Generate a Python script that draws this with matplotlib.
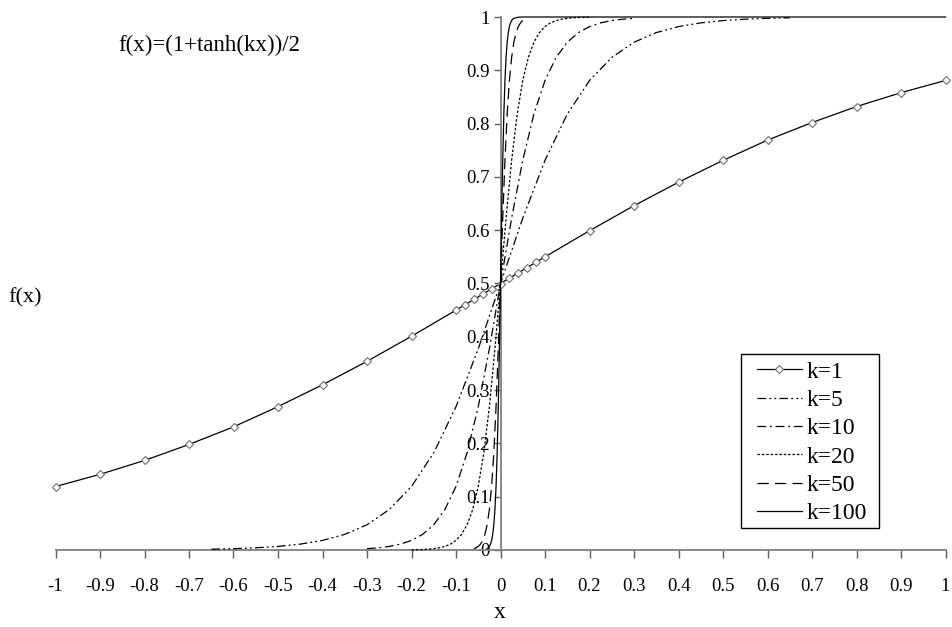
import numpy as np
import matplotlib
matplotlib.use("Agg")
import matplotlib.pyplot as plt
from matplotlib.patches import Rectangle
from matplotlib.ticker import FuncFormatter, MultipleLocator

plt.rcParams["font.family"] = ["Liberation Serif", "DejaVu Serif"]

# values
x_k1 = [-1, -0.9, -0.8, -0.7, -0.6, -0.5, -0.4, -0.3, -0.2, -0.1,
        -0.08, -0.06, -0.04, -0.02, 0, 0.02, 0.04, 0.06, 0.08,
        0.1, 0.2, 0.3, 0.4, 0.5, 0.6, 0.7, 0.8, 0.9, 1]
y_k1 = [0.119, 0.142, 0.168, 0.198, 0.231, 0.269, 0.310, 0.354, 0.401, 0.450,
        0.460, 0.470, 0.480, 0.490, 0.500, 0.510, 0.520, 0.530, 0.540,
        0.550, 0.599, 0.646, 0.690, 0.731, 0.769, 0.802, 0.832, 0.858, 0.881]

x_k5 = [-0.65, -0.6, -0.55, -0.5, -0.45, -0.4, -0.35, -0.3, -0.25, -0.2,
        -0.15, -0.1, -0.05, 0, 0.05, 0.1, 0.15, 0.2, 0.25, 0.3,
        0.35, 0.4, 0.45, 0.5, 0.55, 0.6, 0.65]
y_k5 = [0.0015, 0.0025, 0.0041, 0.0067, 0.011, 0.018, 0.0293, 0.0474, 0.0759, 0.1192,
        0.1824, 0.2689, 0.3775, 0.5, 0.6225, 0.7311, 0.8176, 0.8808, 0.9241, 0.9526,
        0.9707, 0.982, 0.989, 0.9933, 0.9959, 0.9975, 0.9985]

x_k10 = [-0.3, -0.275, -0.25, -0.225, -0.2, -0.175, -0.15, -0.125, -0.1,
         -0.075, -0.05, -0.025, 0, 0.025, 0.05, 0.075, 0.1, 0.125,
         0.15, 0.175, 0.2, 0.225, 0.25, 0.275, 0.3]
y_k10 = [0.0025, 0.0041, 0.0067, 0.011, 0.018, 0.0293, 0.0474, 0.0759, 0.1192,
         0.1824, 0.2689, 0.3775, 0.5, 0.6225, 0.7311, 0.8176, 0.8808, 0.9241,
         0.9526, 0.9707, 0.982, 0.989, 0.9933, 0.9959, 0.9975]

x_k20 = [-0.2, -0.1875, -0.175, -0.1625, -0.15, -0.1375, -0.125, -0.1125, -0.1,
         -0.0875, -0.075, -0.0625, -0.05, -0.0375, -0.025, -0.0125, 0,
         0.0125, 0.025, 0.0375, 0.05, 0.0625, 0.075, 0.0875, 0.1,
         0.1125, 0.125, 0.1375, 0.15, 0.1625, 0.175, 0.1875, 0.2]
y_k20 = [0.0003, 0.0006, 0.0009, 0.0015, 0.0025, 0.0041, 0.0067, 0.011, 0.018,
         0.0293, 0.0474, 0.0759, 0.1192, 0.1824, 0.2689, 0.3775, 0.5,
         0.6225, 0.7311, 0.8176, 0.8808, 0.9241, 0.9526, 0.9707, 0.982,
         0.989, 0.9933, 0.9959, 0.9975, 0.9985, 0.9991, 0.9994, 0.9997]

x_k50 = [-0.06, -0.055, -0.05, -0.045, -0.04, -0.035, -0.03, -0.025, -0.02,
         -0.015, -0.01, -0.005, 0, 0.005, 0.01, 0.015, 0.02, 0.025,
         0.03, 0.035, 0.04, 0.045, 0.05, 0.055, 0.06]
y_k50 = [0.0025, 0.0041, 0.0067, 0.011, 0.018, 0.0293, 0.0474, 0.0759, 0.1192,
         0.1824, 0.2689, 0.3775, 0.5, 0.6225, 0.7311, 0.8176, 0.8808, 0.9241,
         0.9526, 0.9707, 0.982, 0.989, 0.9933, 0.9959, 0.9975]

x_k100 = [-0.03, -0.0275, -0.025, -0.0225, -0.02, -0.0175, -0.015, -0.0125, -0.01,
          -0.0075, -0.005, -0.0025, 0, 0.0025, 0.005, 0.0075, 0.01, 0.0125,
          0.015, 0.0175, 0.02, 0.0225, 0.025, 0.0275, 0.03, 0.04, 0.05, 0.1, 1]
y_k100 = [0.0025, 0.0041, 0.0067, 0.011, 0.018, 0.0293, 0.0474, 0.0759, 0.1192,
          0.1824, 0.2689, 0.3775, 0.5, 0.6225, 0.7311, 0.8176, 0.8808, 0.9241,
          0.9526, 0.9707, 0.982, 0.989, 0.9933, 0.9959, 0.9975, 0.9997, 1.0, 1.0, 1.0]

series = [
    ("k=1", x_k1, y_k1, "-"),
    ("k=5", x_k5, y_k5, (0, (7, 2.5, 1.5, 2.5, 1.5, 2.5))),
    ("k=10", x_k10, y_k10, (0, (7, 3, 1.5, 3))),
    ("k=20", x_k20, y_k20, (0, (2, 1.5))),
    ("k=50", x_k50, y_k50, (0, (9, 5))),
    ("k=100", x_k100, y_k100, "-"),
]


def fmt_tick(value, _):
    v = round(value, 1)
    if v == 0:
        return "0"
    return f"{v:g}"


W, H = 952, 627
fig = plt.figure(figsize=(W / 100, H / 100), dpi=100)
ax = fig.add_axes([55.5 / W, 1 - 550 / H, 890 / W, 533 / H])

for label, xs, ys, ls in series:
    if label == "k=1":
        ax.plot(xs, ys, color="black", linewidth=0.9, linestyle=ls,
                marker="D", markersize=4.2, markerfacecolor="white",
                markeredgecolor="#707070", markeredgewidth=0.8,
                label=label, clip_on=False, zorder=3)
    else:
        ax.plot(xs, ys, color="black", linewidth=0.9, linestyle=ls,
                label=label, clip_on=False, zorder=3)

ax.set_xlim(-1, 1)
ax.set_ylim(0, 1)

ax.spines["top"].set_visible(False)
ax.spines["right"].set_visible(False)
ax.spines["left"].set_position(("data", 0))
ax.spines["bottom"].set_position(("data", 0))
for s in ["left", "bottom"]:
    ax.spines[s].set_color("#808080")
    ax.spines[s].set_linewidth(1.3)
    ax.spines[s].set_zorder(2)

ax.xaxis.set_major_locator(MultipleLocator(0.1))
ax.yaxis.set_major_locator(MultipleLocator(0.1))
ax.xaxis.set_major_formatter(FuncFormatter(fmt_tick))
ax.yaxis.set_major_formatter(FuncFormatter(fmt_tick))
ax.tick_params(axis="x", direction="out", length=6, width=1.0, color="#606060",
               pad=14, labelsize=13.5)
ax.tick_params(axis="y", direction="out", length=5, width=1.0, color="#606060",
               pad=3, labelsize=13.5)

# axis titles and formula placed as in the reference
fig.text(500 / W, 1 - 612 / H, "x", fontsize=17, ha="center", va="center")
fig.text(25 / W, 1 - 298 / H, "f(x)", fontsize=16, ha="center", va="center")
fig.text(118 / W, 1 - 45 / H, "f(x)=(1+tanh(kx))/2", fontsize=16.5,
         ha="left", va="center")

leg = ax.legend(loc="upper left", bbox_to_anchor=(757 / W, 1 - 361 / H),
                bbox_transform=fig.transFigure, fontsize=17, frameon=False,
                handlelength=1.9, handletextpad=0.2, labelspacing=0.29,
                borderpad=0, borderaxespad=0)
fig.patches.append(Rectangle((741 / W, 1 - 528 / H), 138 / W, 174 / H,
                             transform=fig.transFigure, fill=False,
                             edgecolor="black", linewidth=1.0))

fig.savefig("out.png", dpi=100)
